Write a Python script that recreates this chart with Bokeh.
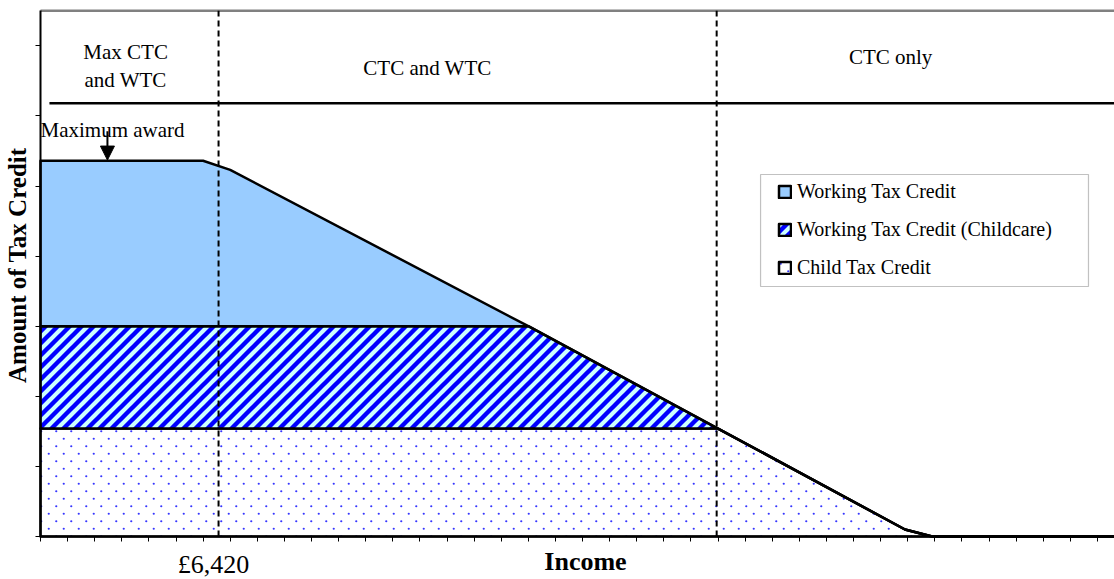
from math import pi
from bokeh.plotting import figure
from bokeh.models import (Range1d, Label, Arrow, NormalHead, BoxAnnotation,
                          Legend, LegendItem, FixedTicker, CanvasTexture)
from bokeh.embed import file_html
from bokeh.resources import INLINE

# ---- data (in axis tick units) ----
income = [0.0, 6.0, 7.0, 18.0, 25.0, 31.9, 32.9, 40.0]
ctc = [1.54, 1.54, 1.54, 1.54, 1.54, 0.10, 0.0, 0.0]
wtc_childcare = [1.46, 1.46, 1.46, 1.46, 0.0, 0.0, 0.0, 0.0]
wtc = [2.36, 2.36, 2.23, 0.0, 0.0, 0.0, 0.0, 0.0]

series_names = ["Working Tax Credit", "Working Tax Credit (Childcare)", "Child Tax Credit"]
zone_bounds = [6.57, 24.95]          # dashed dividers
zone_labels = ["Max CTC\nand WTC", "CTC and WTC", "CTC only"]
threshold_label = "£6,420"
x_title = "Income"
y_title = "Amount of Tax Credit"
award_label = "Maximum award"

FONT = "Liberation Serif"
X_MAX = 39.63
Y_MAX = 7.5

# cumulative stacks
s1 = list(ctc)
s2 = [a + b for a, b in zip(s1, wtc_childcare)]
s3 = [a + b for a, b in zip(s2, wtc)]
zeros = [0.0] * len(income)
rev_x = income[::-1]

stripes = CanvasTexture(code="""
const s = 12;
try { ctx.canvas.width = s; ctx.canvas.height = s; } catch (e) {}
ctx.setTransform(1, 0, 0, 1, 0, 0);
ctx.clearRect(0, 0, s, s);
ctx.strokeStyle = "#0000FF";
ctx.lineWidth = 4.4;
ctx.beginPath();
ctx.moveTo(-3, s + 3); ctx.lineTo(s + 3, -3);
ctx.moveTo(-3, 3); ctx.lineTo(3, -3);
ctx.moveTo(s - 3, s + 3); ctx.lineTo(s + 3, s - 3);
ctx.stroke();
""")
dots = CanvasTexture(code="""
const s = 15;
try { ctx.canvas.width = s; ctx.canvas.height = s; } catch (e) {}
ctx.setTransform(1, 0, 0, 1, 0, 0);
ctx.clearRect(0, 0, s, s);
ctx.fillStyle = "#3535FF";
ctx.beginPath(); ctx.arc(3.75, 3.75, 1.1, 0, 2 * Math.PI); ctx.fill();
ctx.beginPath(); ctx.arc(11.25, 11.25, 1.1, 0, 2 * Math.PI); ctx.fill();
""")

p = figure(width=1114, height=579, output_backend="svg", toolbar_location=None,
           x_range=Range1d(-40 / 27.1, X_MAX), y_range=Range1d(-43 / 70.1, 536 / 70.1),
           min_border=0)
p.outline_line_color = None
p.grid.visible = False
p.background_fill_color = "white"
p.border_fill_color = "white"

for ax in (p.xaxis[0], p.yaxis[0]):
    ax.fixed_location = 0
    ax.axis_line_width = 2
    ax.axis_line_color = "black"
    ax.major_tick_in = 0
    ax.major_tick_out = 5
    ax.major_tick_line_color = "black"
    ax.major_tick_line_width = 1
    ax.minor_tick_line_color = None
    ax.major_label_text_font_size = "0px"
p.xaxis.bounds = (0, X_MAX)
p.yaxis.bounds = (0, Y_MAX)
p.xaxis.ticker = FixedTicker(ticks=list(range(0, 40)))
p.yaxis.ticker = FixedTicker(ticks=list(range(0, 8)))

common = dict(line_color="black", line_width=2.5, line_join="round")
r_ctc = p.patch(income + rev_x, s1 + zeros, fill_color="white",
                hatch_pattern="dots", hatch_extra={"dots": dots},
                hatch_color="#3535FF", hatch_scale=15, hatch_weight=1, **common)
r_cc = p.patch(income + rev_x, s2 + s1[::-1], fill_color="#CCFFFF",
               hatch_pattern="stripes", hatch_extra={"stripes": stripes},
               hatch_color="#0000FF", hatch_scale=12, hatch_weight=1, **common)
r_wtc = p.patch(income + rev_x, s3 + s2[::-1], fill_color="#99CCFF", **common)

# top border and zone separators
p.segment(x0=[0], y0=[Y_MAX], x1=[X_MAX], y1=[Y_MAX], line_color="#808080", line_width=2.5)
p.segment(x0=zone_bounds, y0=[0, 0], x1=zone_bounds, y1=[Y_MAX, Y_MAX],
          line_color="black", line_width=2, line_dash="6 4")
p.segment(x0=[0.33], y0=[6.18], x1=[X_MAX], y1=[6.18], line_color="black", line_width=2.5)

# zone labels
zl_pos = [(3.14, 6.91), (14.28, 6.69), (31.37, 6.84)]
for txt, (x, y) in zip(zone_labels, zl_pos):
    for i, ln in enumerate(txt.split("\n")):
        p.add_layout(Label(x=x, y=y - i * 0.40, text=ln, text_font=FONT,
                           text_font_size="21px", text_align="center",
                           text_baseline="alphabetic", text_color="black"))

p.add_layout(Label(x=0.0, y=5.80, text=award_label, text_font=FONT, text_color="black",
                   text_font_size="21px", text_align="left", text_baseline="alphabetic"))
p.add_layout(Arrow(x_start=2.47, y_start=5.78, x_end=2.47, y_end=5.37, line_width=2,
                   end=NormalHead(size=14, fill_color="black", line_color="black")))

# axis titles
p.add_layout(Label(x=6.38, y=-0.40, text=threshold_label, text_font=FONT, text_color="black",
                   text_font_size="26px", text_align="center", text_baseline="alphabetic"))
p.add_layout(Label(x=20.11, y=-0.36, text=x_title, text_font=FONT, text_font_style="bold",
                   text_color="black", text_font_size="26px", text_align="center",
                   text_baseline="alphabetic"))
p.add_layout(Label(x=-0.84, y=3.87, text=y_title, text_font=FONT, text_font_style="bold",
                   text_color="black", text_font_size="25px", text_align="center",
                   text_baseline="middle", angle=pi / 2))

# legend frame + legend
p.add_layout(BoxAnnotation(left=26.57, right=38.67, top=5.164, bottom=3.566,
                           fill_color="white", fill_alpha=1.0,
                           line_color="#333333", line_width=1.2))
legend = Legend(items=[LegendItem(label=series_names[0], renderers=[r_wtc]),
                       LegendItem(label=series_names[1], renderers=[r_cc]),
                       LegendItem(label=series_names[2], renderers=[r_ctc])],
                location=(777, 300), padding=0, spacing=15,
                glyph_width=15, glyph_height=15, label_height=22, label_standoff=5,
                label_text_font=FONT, label_text_font_size="20px", label_text_color="black",
                border_line_color=None, background_fill_alpha=0.0)
p.add_layout(legend)

open("out.html", "w").write(file_html(p, INLINE))
